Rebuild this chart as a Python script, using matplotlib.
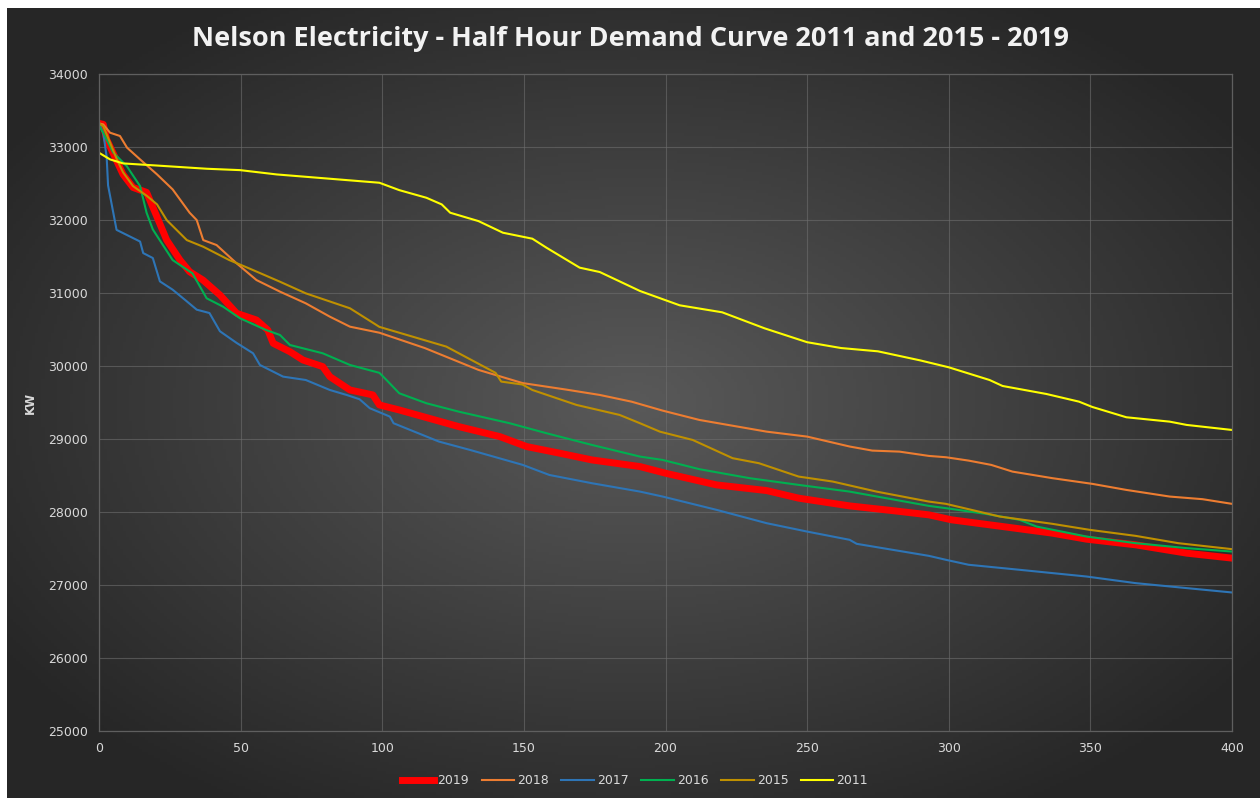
import matplotlib.pyplot as plt
import numpy as np

# half hour demand duration curves (kW)
x2019 = [0, 1.5, 2.7, 8.5, 12, 16.8, 19.8, 23.9, 28.6, 32, 36.7, 42.7, 48.6, 55.6, 59.6, 61.5, 67.4, 72, 79, 81.5,
         88.6, 96.7, 99, 106, 127, 141.5, 151, 162.7, 174, 191, 200, 218, 235.7, 247, 265, 280, 293, 301, 319, 336.6,
         348.6, 366, 384, 400]
y2019 = [33330, 33316, 33110, 32630, 32452, 32384, 32110, 31730, 31456, 31296, 31182, 30977, 30726, 30634, 30497,
         30315, 30200, 30086, 29995, 29858, 29675, 29607, 29470, 29401, 29173, 29036, 28899, 28808, 28716, 28625,
         28534, 28374, 28296, 28192, 28086, 28022, 27963, 27895, 27803, 27712, 27630, 27552, 27438, 27370]

x2018 = [0, 1.5, 3.9, 7.4, 9.9, 14.5, 20.5, 26, 32, 34.5, 36.8, 41.5, 48.6, 55.6, 63.9, 73, 81.5, 88.6, 99, 115, 134,
         149.5, 165, 176.8, 188, 199, 212, 235.7, 250, 265, 273, 282.6, 293, 299, 307, 315, 322.5, 336.6, 350.7,
         362.7, 378, 389.6, 400]
y2018 = [33330, 33316, 33202, 33157, 32997, 32836, 32630, 32425, 32105, 32004, 31730, 31662, 31411, 31182, 31023,
         30863, 30680, 30543, 30460, 30250, 29950, 29770, 29680, 29607, 29515, 29392, 29264, 29104, 29036, 28900,
         28844, 28830, 28771, 28753, 28707, 28648, 28556, 28466, 28388, 28305, 28214, 28178, 28114]

x2017 = [0, 1.5, 2.7, 3.2, 6.2, 14.5, 15.6, 19, 21.5, 26, 31, 34.5, 39, 42.7, 48.6, 54.4, 56.8, 65, 73, 81.5, 87.4,
         92, 95.6, 102.7, 104, 120, 131, 149.6, 159, 174, 191, 199, 218, 235.7, 250, 265, 267.5, 293, 299, 307, 325,
         348.6, 366, 384, 400]
y2017 = [33330, 33200, 32872, 32480, 31870, 31710, 31552, 31484, 31164, 31050, 30890, 30776, 30730, 30480, 30320,
         30178, 30018, 29858, 29812, 29675, 29607, 29548, 29425, 29310, 29219, 28968, 28853, 28648, 28510, 28397,
         28282, 28214, 28032, 27849, 27734, 27621, 27566, 27401, 27347, 27279, 27210, 27118, 27027, 26959, 26899]

x2016 = [0, 1.5, 5, 9.8, 14.5, 16.8, 19, 26, 33, 38, 43.8, 49.8, 59, 63.9, 67.4, 79, 88.6, 99, 101.5, 106, 115.6, 127,
         145, 158, 174, 191, 199, 212, 229.7, 247, 265, 293, 299, 313, 325, 331, 348.6, 366, 384, 400]
y2016 = [33300, 33200, 32930, 32744, 32470, 32105, 31876, 31456, 31274, 30932, 30817, 30658, 30497, 30429, 30292,
         30178, 30018, 29910, 29812, 29630, 29493, 29378, 29219, 29082, 28922, 28762, 28716, 28589, 28466, 28374,
         28282, 28086, 28055, 27977, 27895, 27803, 27666, 27575, 27507, 27460]

x2015 = [0, 1.5, 3.9, 6.3, 8.5, 12, 17, 20.5, 23.9, 31, 36.8, 46, 53, 63.9, 73, 88.6, 99, 122.6, 140, 142, 149.5,
         153, 168.6, 183.8, 191, 198, 209.6, 223.7, 233, 247, 259, 274.5, 293, 299, 307, 318, 336.6, 349.7, 366,
         381, 400]
y2015 = [33330, 33292, 33068, 32836, 32658, 32470, 32333, 32219, 32004, 31730, 31639, 31456, 31342, 31159, 31000,
         30795, 30540, 30270, 29910, 29790, 29750, 29675, 29470, 29333, 29219, 29104, 28990, 28740, 28671, 28488,
         28420, 28282, 28145, 28114, 28041, 27940, 27840, 27758, 27675, 27575, 27493]

x2011 = [0, 3.9, 8.5, 20, 38, 49.8, 62.7, 85, 99, 106, 115.6, 121, 124, 134, 142.6, 153, 158, 169.7, 176.8, 191, 205,
         220, 235, 250, 262, 275, 290, 300, 314.4, 319, 334.5, 346, 350.7, 362.7, 378, 384, 400]
y2011 = [32927, 32836, 32781, 32753, 32708, 32689, 32630, 32560, 32516, 32415, 32310, 32219, 32105, 31990, 31831,
         31749, 31625, 31352, 31292, 31032, 30836, 30740, 30520, 30330, 30250, 30205, 30080, 29986, 29812, 29730,
         29620, 29515, 29442, 29301, 29241, 29196, 29127]

series = [
    ("2019", x2019, y2019, "#ff0000", 5.0),
    ("2018", x2018, y2018, "#ed7d31", 1.5),
    ("2017", x2017, y2017, "#2e75b6", 1.5),
    ("2016", x2016, y2016, "#00b050", 1.5),
    ("2015", x2015, y2015, "#bf9000", 1.5),
    ("2011", x2011, y2011, "#ffff00", 1.5),
]

fig = plt.figure(figsize=(12.6, 7.98), dpi=100, facecolor="white")

# dark radial background (chart area, with thin white strip top/left)
bg = fig.add_axes([7 / 1260, 0, 1253 / 1260, 790 / 798])
gx, gy = np.meshgrid(np.linspace(-1, 1, 400), np.linspace(-1, 1, 260))
r = np.clip(np.sqrt(gx ** 2 + gy ** 2) / 1.2, 0, 1)
shade = 0.35 - 0.20 * r
bg.imshow(np.dstack([shade, shade, shade]), aspect="auto", extent=[0, 1, 0, 1])
bg.axis("off")

ax = fig.add_axes([99 / 1260, 1 - 731 / 798, 1133 / 1260, (731 - 74.5) / 798])
ax.patch.set_alpha(0)

for label, xs, ys, color, lw in series:
    ax.plot(xs, ys, color=color, lw=lw, label=label, solid_joinstyle="round")

ax.set_xlim(0, 400)
ax.set_ylim(25000, 34000)
ax.set_xticks(np.arange(0, 401, 50))
ax.set_yticks(np.arange(25000, 34001, 1000))
ax.grid(True, color="#6e6e6e", lw=0.8, alpha=0.6)
ax.set_axisbelow(True)
for s in ax.spines.values():
    s.set_color("#5f5f5f")
    s.set_linewidth(0.9)
ax.tick_params(colors="#d9d9d9", labelsize=9, length=0, pad=8)
ax.set_ylabel("KW", color="#d9d9d9", fontsize=8.5, fontweight="bold", labelpad=8)

fig.text(0.5, 1 - 39 / 798, "Nelson Electricity - Half Hour Demand Curve 2011 and 2015 - 2019",
         ha="center", va="center", color="#f2f2f2", fontsize=19.5, fontweight="bold", family="Open Sans")

handles, labels = ax.get_legend_handles_labels()
leg = fig.legend(handles, labels, loc="center", bbox_to_anchor=(635 / 1260, 1 - 781 / 798), ncol=6,
                 frameon=False, fontsize=9, handlelength=2.6, columnspacing=1.0, handletextpad=0.25)
for t in leg.get_texts():
    t.set_color("#d9d9d9")

fig.savefig("out.png", dpi=100, facecolor=fig.get_facecolor())
